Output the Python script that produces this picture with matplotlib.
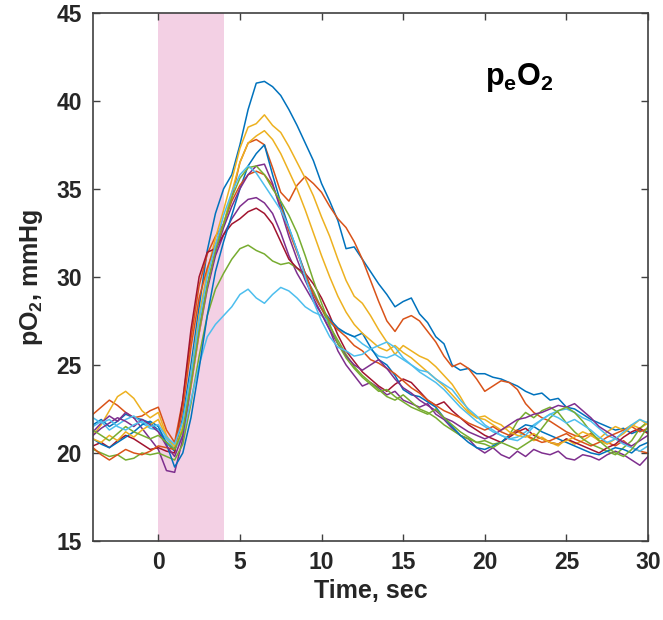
import numpy as np
import matplotlib
matplotlib.use("Agg")
import matplotlib.pyplot as plt

plt.rcParams['font.family'] = ['Liberation Sans', 'DejaVu Sans']
plt.rcParams['font.weight'] = 'bold'
plt.rcParams['mathtext.fontset'] = 'custom'
plt.rcParams['mathtext.rm'] = 'Liberation Sans:bold'
plt.rcParams['mathtext.bf'] = 'Liberation Sans:bold'

# sample times, sec (every 0.5 s from -4 to 30)
time = np.arange(-4, 30.01, 0.5)

# pO2 traces, mmHg at each sample time
trace_blue1 = [21.6, 21.9, 21.5, 21.8, 22.2, 22.0, 21.9, 21.7,
               21.3, 20.6, 20.1, 22.0, 25.0, 28.3, 31.5, 33.6,
               35.0, 35.8, 37.5, 39.5, 41.0, 41.1, 40.8, 40.3,
               39.5, 38.6, 37.6, 36.6, 35.3, 34.3, 33.2, 31.6,
               31.7, 31.0, 30.3, 29.6, 29.0, 28.3, 28.6, 28.8,
               27.9, 27.4, 26.6, 26.2, 25.0, 24.7, 24.8, 24.5,
               24.5, 24.3, 24.2, 24.0, 23.8, 23.5, 23.3, 23.4,
               23.0, 23.1, 22.6, 22.5, 22.2, 21.9, 21.7, 21.5,
               21.3, 21.4, 21.1, 21.3, 21.2]
trace_orange1 = [22.2, 22.6, 23.0, 22.7, 22.3, 22.0, 22.1, 22.4,
                 22.6, 21.3, 20.6, 23.0, 26.5, 29.5, 31.3, 32.3,
                 33.0, 34.5, 36.5, 37.6, 37.8, 37.5, 36.2, 34.8,
                 34.3, 35.2, 35.7, 35.3, 34.8, 34.0, 33.3, 32.8,
                 32.0, 31.0, 29.8, 28.6, 27.5, 26.9, 27.6, 27.8,
                 27.5, 26.9, 26.3, 25.5, 24.9, 25.1, 24.8, 24.2,
                 23.5, 23.8, 24.1, 24.0, 23.6, 22.8, 22.3, 22.0,
                 21.8, 21.5, 21.2, 21.0, 20.9, 21.1, 20.7, 20.6,
                 20.4, 20.7, 20.3, 20.1, 20.0]
trace_yellow1 = [21.0, 21.6, 22.4, 23.2, 23.5, 23.1, 22.4, 22.0,
                 22.3, 21.0, 20.2, 21.5, 24.5, 27.8, 30.3, 32.2,
                 33.8, 35.5, 37.3, 38.5, 38.7, 39.2, 38.6, 38.2,
                 37.4, 36.5, 35.6, 34.6, 33.4, 32.3, 31.0, 29.8,
                 28.9, 28.5, 27.8, 27.0, 26.3, 25.6, 26.1, 25.8,
                 25.5, 25.3, 24.9, 24.4, 23.9, 23.2, 22.4, 22.0,
                 21.9, 21.6, 21.3, 21.5, 21.2, 21.0, 20.7, 20.9,
                 20.6, 20.4, 20.8, 20.5, 20.7, 21.0, 20.8, 21.2,
                 21.5, 21.3, 21.6, 21.4, 21.7]
trace_purple1 = [21.2, 21.7, 22.1, 21.8, 22.3, 22.0, 21.4, 20.8,
                 20.2, 19.0, 18.9, 20.8, 23.8, 26.8, 29.3, 31.2,
                 32.4, 33.3, 34.0, 34.4, 34.5, 34.2, 33.6, 32.5,
                 31.2, 30.2, 29.4, 28.6, 27.9, 27.0, 25.8, 25.0,
                 24.4, 23.8, 24.0, 23.7, 23.3, 23.5, 23.0, 22.8,
                 22.6, 22.8, 22.2, 21.9, 21.4, 21.0, 20.8, 20.3,
                 20.0, 20.3, 19.9, 19.7, 20.1, 19.8, 20.2, 20.0,
                 19.9, 20.1, 19.7, 19.6, 19.9, 19.8, 19.6, 19.9,
                 20.1, 19.9, 19.6, 19.3, 19.8]
trace_green1 = [20.2, 20.0, 19.8, 19.9, 19.6, 19.7, 20.0, 19.9,
                20.0, 19.8, 19.6, 20.5, 22.8, 25.5, 27.8, 29.3,
                30.2, 31.0, 31.6, 31.8, 31.5, 31.3, 30.9, 30.7,
                30.8, 30.5, 30.0, 29.2, 28.2, 27.2, 26.4, 25.6,
                24.9, 24.4, 24.0, 23.6, 23.2, 23.0, 23.3, 22.9,
                22.5, 22.3, 22.0, 21.6, 21.3, 21.0, 20.8, 20.6,
                20.7, 20.5, 20.6, 21.0, 21.8, 22.3, 22.0, 22.4,
                22.6, 22.3, 21.7, 21.2, 20.8, 20.5, 20.3, 20.1,
                19.9, 20.3, 20.7, 21.4, 21.8]
trace_lightblue1 = [21.5, 21.8, 21.3, 21.6, 21.9, 22.1, 21.7, 21.4,
                    21.3, 20.8, 20.2, 21.0, 23.0, 25.0, 26.6, 27.3,
                    27.8, 28.3, 29.0, 29.3, 28.8, 28.5, 29.0, 29.4,
                    29.2, 28.8, 28.3, 28.0, 27.8, 27.4, 27.0, 26.8,
                    26.6, 26.2, 25.9, 25.5, 25.4, 25.6, 25.3, 25.0,
                    24.6, 24.3, 24.0, 23.6, 23.1, 22.6, 22.2, 21.8,
                    21.5, 21.2, 21.0, 20.8, 20.9, 21.2, 21.6, 21.9,
                    22.2, 22.4, 22.5, 22.3, 22.0, 21.8, 21.4, 21.0,
                    20.8, 20.5, 20.3, 20.1, 20.4]
trace_darkred = [20.4, 20.6, 20.3, 20.7, 21.0, 20.8, 20.5, 20.2,
                 20.3, 20.1, 20.0, 23.0, 27.0, 30.0, 31.4, 31.6,
                 32.4, 33.0, 33.3, 33.7, 33.9, 33.6, 33.0, 32.0,
                 31.0, 30.5, 30.2, 29.6, 28.8, 27.8, 26.7, 25.8,
                 25.2, 24.6, 24.2, 23.8, 23.5, 23.9, 24.2, 24.0,
                 23.5, 23.0, 22.7, 22.9, 22.4, 22.0, 21.6, 21.3,
                 21.0, 20.8, 20.6, 20.9, 21.2, 21.4, 21.0, 20.8,
                 20.6, 20.5, 20.8, 20.6, 20.4, 20.2, 20.0, 20.3,
                 20.5, 20.9, 21.2, 21.4, 21.1]
trace_blue2 = [20.8, 20.5, 20.3, 20.6, 20.9, 21.2, 21.6, 21.8,
               21.5, 20.5, 19.2, 20.0, 22.0, 24.8, 27.8, 30.3,
               32.0, 33.5, 35.0, 36.3, 37.0, 37.5, 35.8, 34.2,
               32.8, 31.5, 30.2, 29.0, 28.2, 27.6, 27.1, 26.8,
               26.6, 26.8, 26.0, 25.3, 25.0, 24.4, 23.6, 23.3,
               23.2, 22.9, 22.6, 22.0, 21.5, 21.0, 20.6, 20.3,
               20.2, 20.4, 20.6, 21.0, 21.3, 21.6, 21.5, 21.2,
               21.0, 20.8, 20.6, 20.4, 20.2, 20.0, 19.9, 20.1,
               20.3, 20.2, 20.0, 20.4, 20.6]
trace_orange2 = [20.3, 19.9, 19.6, 19.9, 20.2, 20.0, 19.9, 20.1,
                 20.4, 20.3, 20.2, 22.5, 26.0, 28.8, 30.5, 31.8,
                 33.0, 34.3, 35.2, 35.8, 36.0, 35.8, 35.2, 34.0,
                 32.6, 31.4, 30.2, 29.0, 28.2, 27.5, 27.0, 26.6,
                 26.1, 25.8, 25.3, 25.1, 24.8, 24.5, 24.1, 23.7,
                 23.4, 23.0, 22.7, 22.4, 22.2, 22.0, 21.7, 21.5,
                 21.3, 21.5, 21.2, 21.0, 21.3, 21.0, 20.8, 20.6,
                 20.7, 20.9, 21.1, 20.8, 20.6, 20.4, 20.6, 20.9,
                 21.1, 21.3, 21.5, 21.2, 21.4]
trace_yellow2 = [20.8, 20.6, 21.0, 20.7, 21.2, 20.9, 21.3, 21.6,
                 21.9, 20.9, 20.4, 21.2, 23.8, 26.8, 29.5, 31.5,
                 33.0, 34.8, 36.5, 37.6, 38.0, 38.3, 37.8, 37.0,
                 36.0, 35.0, 33.8, 32.5, 31.2, 30.0, 28.9, 28.0,
                 27.3, 26.8, 26.4, 26.0, 25.8, 26.1, 25.7, 25.4,
                 25.0, 24.6, 24.2, 23.8, 23.3, 22.8, 22.3, 22.0,
                 22.1, 21.8, 21.6, 21.2, 21.0, 20.9, 21.1, 20.8,
                 20.6, 20.5, 20.7, 20.9, 21.2, 21.0, 20.7, 20.5,
                 20.8, 21.1, 21.5, 21.9, 21.6]
trace_purple2 = [21.0, 21.4, 21.7, 22.0, 21.8, 21.5, 21.9, 21.6,
                 21.2, 20.4, 19.8, 21.0, 24.0, 27.0, 29.5, 31.4,
                 32.8, 34.0, 35.0, 35.8, 36.3, 36.4, 35.3, 33.8,
                 32.3, 31.0, 29.8, 28.8, 27.9, 27.0, 26.2, 25.5,
                 25.0, 24.7, 25.0, 25.3, 24.8, 24.2, 23.7, 23.4,
                 23.0, 22.7, 22.4, 22.0, 21.8, 21.5, 21.2, 21.0,
                 20.8, 21.0, 21.3, 21.6, 21.9, 22.0, 22.2, 22.3,
                 22.5, 22.7, 22.6, 22.8, 22.4, 22.0, 21.5, 21.2,
                 20.9, 20.6, 20.4, 20.7, 21.0]
trace_green2 = [21.3, 21.0, 20.7, 21.1, 21.5, 21.2, 21.0, 20.8,
                21.0, 20.6, 20.2, 21.3, 24.0, 27.0, 29.5, 31.5,
                33.0, 34.5, 35.6, 36.2, 36.3, 35.8, 35.0, 34.3,
                33.5, 32.5, 31.2, 29.8, 28.5, 27.3, 26.2, 25.4,
                24.8, 24.3, 23.9, 23.5, 23.6, 23.2, 22.9, 22.6,
                22.4, 22.2, 22.5, 22.0, 21.6, 21.2, 20.9, 20.6,
                20.5, 20.3, 20.6, 20.4, 20.2, 20.5, 20.8, 21.4,
                22.0, 22.4, 22.6, 22.3, 21.8, 21.2, 20.7, 20.3,
                20.0, 19.8, 20.2, 20.8, 21.5]
trace_lightblue2 = [22.0, 21.7, 21.9, 21.5, 21.3, 21.6, 21.8, 21.5,
                    21.6, 20.9, 20.5, 21.8, 24.5, 27.5, 30.0, 31.8,
                    33.5, 34.8, 35.8, 36.3, 35.9, 35.2, 34.5, 33.8,
                    32.8, 31.5, 30.0, 28.6, 27.5, 26.6, 26.0, 25.8,
                    25.5, 25.6, 25.9, 26.1, 26.3, 26.0, 25.4, 25.0,
                    24.7, 24.6, 24.2, 23.9, 23.6, 23.0, 22.5, 22.1,
                    21.6, 21.3, 21.0, 20.8, 20.7, 21.0, 21.5, 21.9,
                    22.2, 22.0, 21.7, 21.9, 21.6, 21.3, 20.9, 20.6,
                    20.8, 21.2, 21.6, 21.9, 21.7]

traces = [trace_blue1, trace_orange1, trace_yellow1, trace_purple1,
          trace_green1, trace_lightblue1, trace_darkred, trace_blue2,
          trace_orange2, trace_yellow2, trace_purple2, trace_green2,
          trace_lightblue2]

# matlab default line colours
matlab_colors = ['#0072BD', '#D95319', '#EDB120', '#7E2F8E',
                 '#77AC30', '#4DBEEE', '#A2142F']

stim_start, stim_end = 0, 4

fig = plt.figure(figsize=(6.63, 6.20), dpi=100)
ax = fig.add_axes([0.1403, 0.1274, 0.8371, 0.8521])

ax.axvspan(stim_start, stim_end, color='#F3D0E4', lw=0, zorder=0)

for i, tr in enumerate(traces):
    ax.plot(time, tr, color=matlab_colors[i % len(matlab_colors)], lw=1.1)

ax.set_xlim(-4, 30)
ax.set_ylim(15, 45)
ax.set_xticks([0, 5, 10, 15, 20, 25, 30])
ax.set_yticks([15, 20, 25, 30, 35, 40, 45])

ax.tick_params(direction='in', length=5, width=1, colors='#404040',
               top=True, right=True, labelsize=16.5, labelcolor='#262626')
ax.tick_params(axis='x', pad=7)
ax.tick_params(axis='y', pad=8)
for s in ax.spines.values():
    s.set_color('#404040')
    s.set_linewidth(1.2)

ax.set_xlabel('Time, sec', fontsize=18, fontweight='bold', color='#262626',
              labelpad=4)
ax.set_ylabel(r'pO$_\mathbf{2}$, mmHg', fontsize=18, fontweight='bold',
              color='#262626', labelpad=8)

ax.text(20.0, 40.9, r'$\mathbf{p_{e}O_{2}}$', fontsize=22, color='black')

fig.savefig('out.png', dpi=100)
